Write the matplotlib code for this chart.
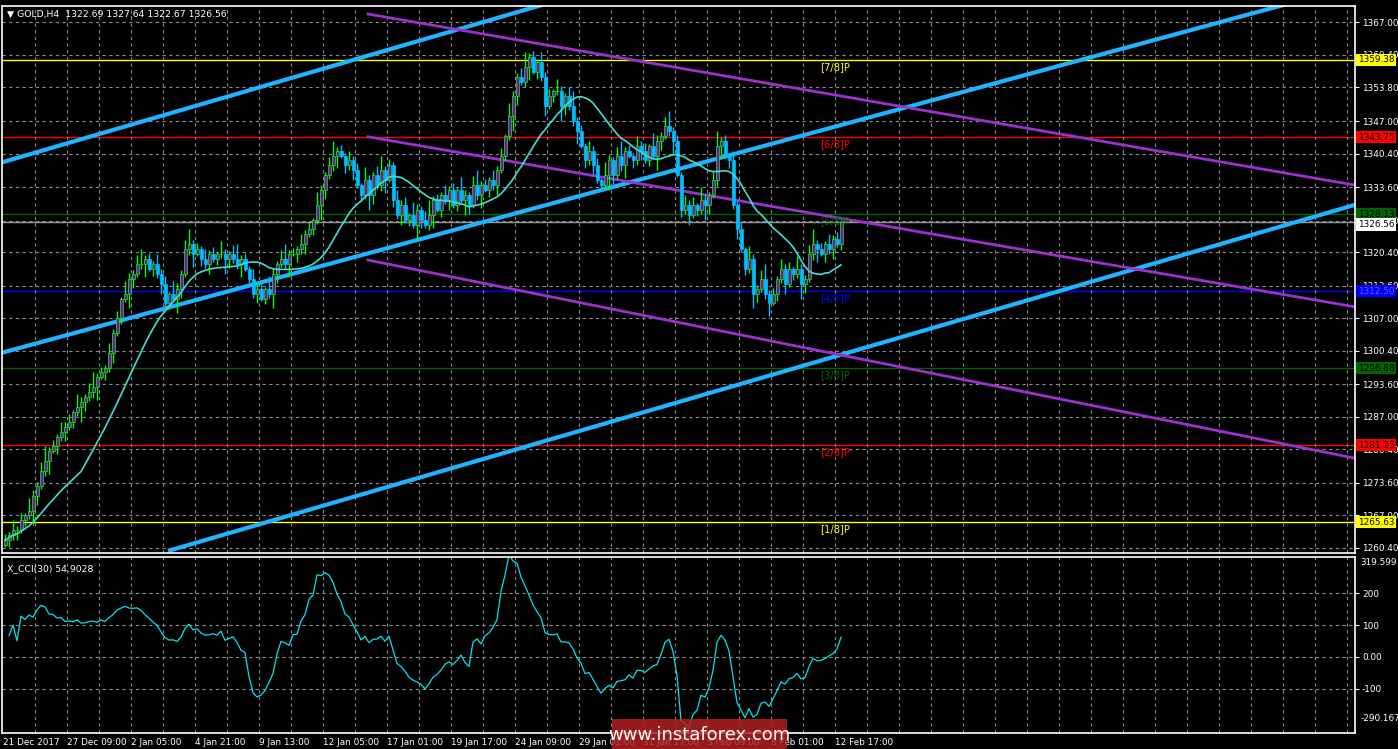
import numpy as np
import matplotlib
matplotlib.use("Agg")
import matplotlib.pyplot as plt

# H4 closes, one per bar
closes = [
    1262, 1263, 1264, 1264, 1266, 1267, 1268, 1271, 1273, 1276,
    1278, 1280, 1281, 1283, 1284, 1285, 1286, 1288, 1289, 1290,
    1291, 1292, 1293, 1295, 1296, 1297, 1300, 1304, 1307, 1311,
    1312, 1315, 1316, 1318, 1318, 1319, 1317, 1318, 1316, 1314,
    1310, 1312, 1311, 1313, 1316, 1321, 1322, 1320, 1321, 1319,
    1318, 1320, 1319, 1320, 1320, 1319, 1320, 1319, 1318, 1319,
    1317, 1315, 1312, 1313, 1311, 1313, 1312, 1316, 1318, 1319,
    1318, 1320, 1320, 1321, 1322, 1324, 1325, 1327, 1330, 1333,
    1336, 1338, 1340, 1341, 1340, 1338, 1339, 1337, 1334, 1332,
    1335, 1332, 1336, 1334, 1337, 1335, 1338, 1331, 1328, 1330,
    1327, 1328, 1326, 1329, 1327, 1326, 1328, 1331, 1329, 1332,
    1331, 1333, 1330, 1333, 1331, 1332, 1330, 1334, 1332, 1334,
    1333, 1335, 1334, 1337, 1340, 1344, 1348, 1352, 1356, 1355,
    1358, 1360, 1357, 1359, 1356, 1350, 1352, 1353, 1353, 1350,
    1352, 1350, 1347, 1345, 1342, 1339, 1341, 1338, 1335, 1334,
    1336, 1339, 1336, 1340, 1338, 1341, 1340, 1339, 1342, 1341,
    1339, 1342, 1340, 1343, 1344, 1346, 1345, 1343, 1336, 1329,
    1330, 1328, 1330, 1329, 1331, 1330, 1332, 1335, 1342, 1343,
    1340, 1339, 1330, 1325, 1321, 1317, 1319, 1312, 1313, 1315,
    1312, 1310, 1312, 1315, 1317, 1314, 1317, 1316, 1317, 1314,
    1315, 1320, 1322, 1321, 1320, 1322, 1321, 1323, 1322, 1326.56,
]
wicks = [1.2, 0.6, 2.0, 0.9, 1.5, 0.4, 2.6, 1.1, 0.7, 1.8, 3.0, 0.8]
first_open = 1261.0

# Murrey levels
levels = [1359.38, 1343.75, 1328.13, 1312.50, 1296.88, 1281.25, 1265.63]
level_names = ["[7/8]P", "[6/8]P", "[5/8]P", "[4/8]P", "[3/8]P", "[2/8]P", "[1/8]P"]
level_colors = ["#ffff00", "#ff0000", "#006400", "#0000ff", "#006400", "#ff0000", "#ffff00"]
level_text = ["black", "black", "black", "#6060ff", "black", "black", "black"]

# channel lines (bar index, price)
cyan_lines = [((-1.25, 1338.5), (135.75, 1370.9)),
              ((-1.25, 1299.9), (321.25, 1370.9)),
              ((40.75, 1259.8), (337.5, 1330.0))]
purple_lines = [((90.75, 1368.7), (337.5, 1334.0)),
                ((90.75, 1343.8), (337.5, 1309.3)),
                ((90.75, 1318.8), (337.5, 1278.6))]

price_ticks = [1367.00, 1360.40, 1353.80, 1347.00, 1340.40, 1333.60, 1326.80,
               1320.40, 1313.60, 1307.00, 1300.40, 1293.60, 1287.00, 1280.40,
               1273.60, 1267.00, 1260.40]
date_labels = ["21 Dec 2017", "27 Dec 09:00", "2 Jan 05:00", "4 Jan 21:00",
               "9 Jan 13:00", "12 Jan 05:00", "17 Jan 01:00", "19 Jan 17:00",
               "24 Jan 09:00", "29 Jan 01:00", "31 Jan 17:00", "5 Feb 09:00",
               "8 Feb 01:00", "12 Feb 17:00"]
date_bars = [-0.5 + 16 * k for k in range(len(date_labels))]

c = np.array(closes, dtype=float)
o = np.concatenate([[first_open], c[:-1]])
w = np.array([wicks[i % len(wicks)] for i in range(len(c))])
h = np.maximum(o, c) + w
l = np.minimum(o, c) - w[::-1]
x = np.arange(len(c))

W, H = 1398, 749
fig = plt.figure(figsize=(W / 100, H / 100), dpi=100)
fig.patch.set_facecolor("black")

def px_axes(x0, y0, x1, y1):
    return fig.add_axes([x0 / W, 1 - y1 / H, (x1 - x0) / W, (y1 - y0) / H])

ax = px_axes(2, 6, 1355, 553)
ax2 = px_axes(2, 557, 1355, 733)
xlim = (-0.75, 337.5)
FS = 6.4

for a in (ax, ax2):
    a.set_facecolor("black")
    a.set_xlim(*xlim)
    for s in a.spines.values():
        s.set_color("white")
        s.set_linewidth(1.2)
    a.set_xticks(np.arange(7.5, 338, 8))
    a.tick_params(axis="x", length=0, labelbottom=False)
    a.grid(True, color="#8a8a8a", linestyle=(0, (3, 3)), linewidth=0.8)
    a.yaxis.tick_right()
    a.tick_params(axis="y", colors="white", labelsize=FS, length=3, pad=2)

ax.set_ylim(1259.38, 1370.33)
ax.set_yticks(price_ticks)
ax.set_yticklabels([f"{p:.2f}" for p in price_ticks])

# levels
for lv, nm, col, tc in zip(levels, level_names, level_colors, level_text):
    ax.axhline(lv, color=col, lw=1.0, zorder=1)
    ax.text(207.5, lv - 0.4, nm, color=col, fontsize=FS + 0.8, ha="center", va="top", zorder=6)
    ax.text(1.002, lv, f"{lv:.2f}", transform=ax.get_yaxis_transform(), color=tc,
            fontsize=FS, va="center", ha="left",
            bbox=dict(boxstyle="square,pad=0.2", fc=col, ec="none"), clip_on=False, zorder=7)
ax.axhline(c[-1], color="#9a9a9a", lw=1.0, zorder=1)
ax.text(1.002, c[-1] - 0.6, f"{c[-1]:.2f}", transform=ax.get_yaxis_transform(), color="black",
        fontsize=FS, va="center", ha="left",
        bbox=dict(boxstyle="square,pad=0.2", fc="white", ec="none"), clip_on=False, zorder=7)

# candles
up = c >= o
ax.vlines(x[up], l[up], h[up], color="#00ff00", lw=1, zorder=3)
ax.vlines(x[~up], l[~up], h[~up], color="#00bfff", lw=1, zorder=3)
ax.bar(x[up], c[up] - o[up], bottom=o[up], width=0.75, color="#9400d3",
       edgecolor="#00ff00", linewidth=0.5, zorder=4)
ax.bar(x[~up], c[~up] - o[~up], bottom=o[~up], width=0.75, color="#00bfff",
       edgecolor="#00bfff", linewidth=0.5, zorder=4)

# moving average
ma_n = 20
ma = np.array([c[max(0, i - ma_n + 1):i + 1].mean() for i in range(len(c))])
ax.plot(x, ma, color="#40e0d0", lw=1.2, zorder=5)

for (p0, p1) in cyan_lines:
    ax.plot([p0[0], p1[0]], [p0[1], p1[1]], color="#1eb4ff", lw=3, zorder=2,
            solid_capstyle="butt")
for (p0, p1) in purple_lines:
    ax.plot([p0[0], p1[0]], [p0[1], p1[1]], color="#9932cc", lw=2, zorder=2)

ax.text(0.004, 0.993, "\u25bc GOLD,H4  1322.69 1327.64 1322.67 1326.56",
        transform=ax.transAxes, color="white", fontsize=FS + 0.3, va="top", ha="left")

# CCI(30)
tp = (h + l + c) / 3
n = 30
cci = np.full(len(c), np.nan)
for i in range(len(c)):
    win = tp[max(0, i - n + 1):i + 1]
    md = np.mean(np.abs(win - win.mean()))
    if md > 0:
        cci[i] = (tp[i] - win.mean()) / (0.015 * md)
ax2.plot(x, cci, color="#00e5ee", lw=0.9)
ax2.set_ylim(-240, 315)
cci_ticks = [200, 100, 0, -100]
ax2.set_yticks(cci_ticks)
ax2.set_yticklabels(["200", "100", "0.00", "-100"])
ax2.text(1.004, 0.97, "319.599", transform=ax2.transAxes, color="white", fontsize=FS,
         va="center", clip_on=False)
ax2.text(1.004, 0.08, "-290.1679", transform=ax2.transAxes, color="white", fontsize=FS,
         va="center", clip_on=False)
ax2.text(0.004, 0.96, "X_CCI(30) 54.9028", transform=ax2.transAxes, color="white",
         fontsize=FS + 0.3, va="top")

for lbl, b in zip(date_labels, date_bars):
    ax2.text(b, -0.03, lbl, transform=ax2.get_xaxis_transform(), color="white",
             fontsize=FS, va="top", ha="left", clip_on=False)

# watermark
fig.patches.append(plt.Rectangle((612 / W, 0), 175 / W, 30 / H, transform=fig.transFigure,
                                 facecolor="#b22222", alpha=0.85, zorder=10))
fig.text(699 / W, 14 / H, "www.instaforex.com", color="white", fontsize=13,
         ha="center", va="center", zorder=11)

fig.savefig("out.png", dpi=100, facecolor="black")
